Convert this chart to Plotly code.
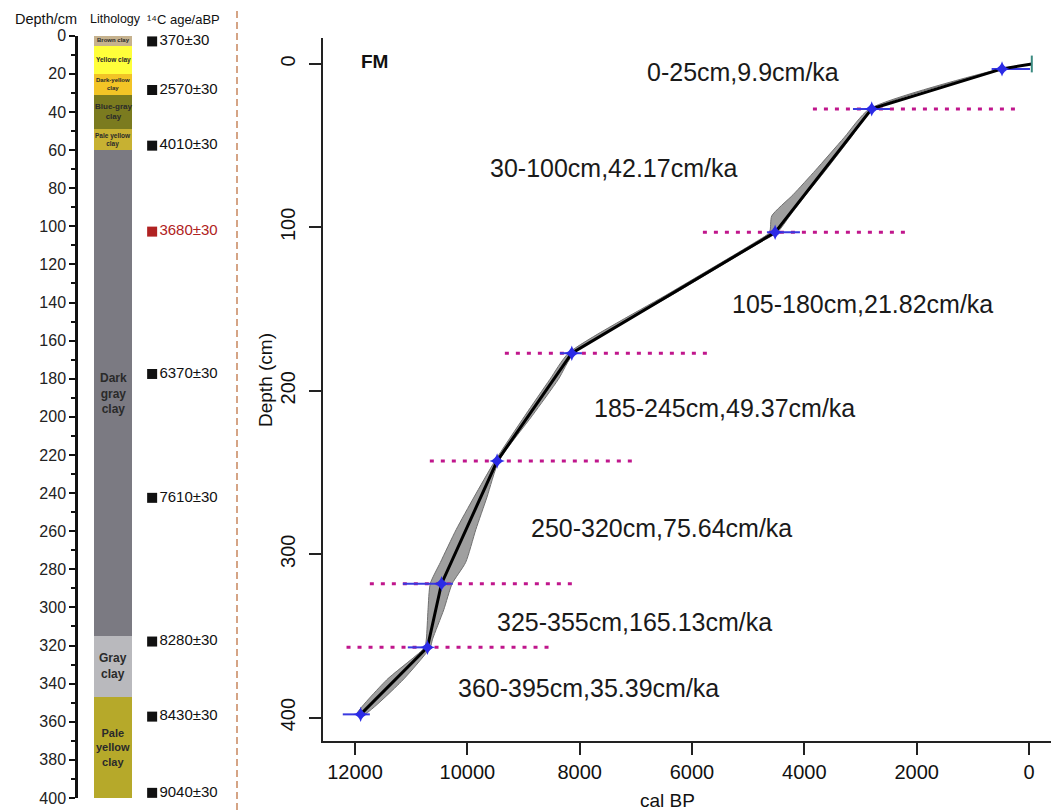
import plotly.graph_objects as go

W, H = 1051, 810

# ---------------- Left panel data (lithology + dates) ----------------
litho_names = ["Brown clay", "Yellow clay", "Dark-yellow<br>clay", "Blue-gray<br>clay",
               "Pale yellow<br>clay", "Dark<br>gray<br>clay", "Gray<br>clay", "Pale<br>yellow<br>clay"]
litho_top = [0, 5, 20, 31, 49, 60, 315, 347]
litho_bottom = [5, 20, 31, 49, 60, 315, 347, 400]
litho_colors = ["#c6b28e", "#ffff3a", "#f2c426", "#7b7b1f", "#c7b132", "#7b7a82", "#b9b9bd", "#b6a92a"]
litho_label_size = [6, 6.5, 6, 8, 6.5, 12, 12, 11]

date_depths = [3, 28.5, 57.7, 102.8, 177.5, 242.5, 317.9, 357.3, 397.3]
date_labels = ["370±30", "2570±30", "4010±30", "3680±30", "6370±30", "7610±30",
               "8280±30", "8430±30", "9040±30"]
date_colors = ["#111111", "#111111", "#111111", "#b02222", "#111111", "#111111",
               "#111111", "#111111", "#111111"]

# ---------------- Right panel data (age-depth model) ----------------
model_depth = [0, 3, 27.5, 103, 177, 243, 318, 357, 398]
model_age = [-50, 480, 2800, 4520, 8140, 9470, 10460, 10710, 11900]

band_depth = [0, 3, 27.5, 45, 65, 80, 93, 103, 110, 140, 177, 193, 215, 243, 265, 285, 305,
              318, 334, 352, 357, 377, 398]
band_young = [-55, 450, 2770, 3170, 3620, 3970, 4260, 4480, 4830, 6290, 8100, 8380, 8840, 9440,
              9650, 9850, 10030, 10270, 10420, 10620, 10660, 11150, 11830]
band_old = [-45, 510, 2840, 3290, 3800, 4200, 4580, 4620, 4920, 6390, 8200, 8530, 8970, 9510,
            9880, 10200, 10480, 10660, 10700, 10730, 10760, 11440, 11970]

dated_depth = [3, 27.5, 103, 177, 243, 318, 357, 398]
dated_age = [480, 2800, 4520, 8140, 9470, 10460, 10710, 11900]
cal_min = [-18, 2475, 4078, 7960, 9420, 10258, 10630, 11736]
cal_max = [665, 3134, 4666, 8352, 9510, 11148, 11060, 12218]

raw_depth = [27.5, 103, 177, 243, 318, 357]
raw_start = [3847, 5806, 9332, 10668, 11736, 12151]
raw_end = [214, 2208, 5681, 7017, 8121, 8500]

rate_labels = ["0-25cm,9.9cm/ka", "30-100cm,42.17cm/ka", "105-180cm,21.82cm/ka",
               "185-245cm,49.37cm/ka", "250-320cm,75.64cm/ka", "325-355cm,165.13cm/ka",
               "360-395cm,35.39cm/ka"]
rate_age = [6839, 9635, 5325, 7788, 8899, 9510, 10205]
rate_depth = [4.9, 63.6, 146.9, 210.5, 284, 341.3, 381.9]

x_ticks = [12000, 10000, 8000, 6000, 4000, 2000, 0]
y_ticks = [0, 100, 200, 300, 400]

FONT = "Liberation Sans, Arial, sans-serif"

fig = go.Figure()

# ---- lithology column ----
thick = [b - t for t, b in zip(litho_top, litho_bottom)]
fig.add_trace(go.Bar(x=[0.5] * len(thick), y=thick, base=litho_top, width=1,
                     marker=dict(color=litho_colors, line=dict(width=0)),
                     xaxis="x2", yaxis="y2", hoverinfo="skip"))

# ---- dates ----
fig.add_trace(go.Scatter(x=[1.53] * len(date_depths), y=date_depths, mode="markers+text",
                         text=date_labels, textposition="middle right",
                         textfont=dict(size=15, color=date_colors, family=FONT),
                         marker=dict(symbol="square", size=10, color=date_colors),
                         xaxis="x2", yaxis="y2", cliponaxis=False, hoverinfo="skip"))

# ---- uncertainty band ----
fig.add_trace(go.Scatter(x=band_young + band_old[::-1], y=band_depth + band_depth[::-1],
                         fill="toself", fillcolor="rgba(135,135,135,0.8)",
                         line=dict(color="#707070", width=1, shape="spline", smoothing=0.6),
                         mode="lines", xaxis="x", yaxis="y", hoverinfo="skip"))

# ---- raw ranges (magenta dotted) ----
rx, ry = [], []
for d, s, e in zip(raw_depth, raw_start, raw_end):
    rx += [s, e, None]
    ry += [d, d, None]
fig.add_trace(go.Scatter(x=rx, y=ry, mode="lines",
                         line=dict(color="#c0168c", width=3, dash="4px,7px"),
                         xaxis="x", yaxis="y", hoverinfo="skip"))

# ---- calibrated ranges (blue) ----
bx, by = [], []
for d, s, e in zip(dated_depth, cal_min, cal_max):
    bx += [s, e, None]
    by += [d, d, None]
fig.add_trace(go.Scatter(x=bx, y=by, mode="lines", line=dict(color="#3a3ae0", width=2),
                         xaxis="x", yaxis="y", hoverinfo="skip"))

# ---- model median line ----
fig.add_trace(go.Scatter(x=model_age, y=model_depth, mode="lines",
                         line=dict(color="black", width=3), xaxis="x", yaxis="y",
                         hoverinfo="skip"))

# ---- dated points ----
fig.add_trace(go.Scatter(x=dated_age, y=dated_depth, mode="markers",
                         marker=dict(symbol="star-diamond", size=11, color="#2b2be6"),
                         xaxis="x", yaxis="y", hoverinfo="skip"))

# surface marker
fig.add_trace(go.Scatter(x=[model_age[0]], y=[model_depth[0]], mode="markers",
                         marker=dict(symbol="line-ns", size=12,
                                     line=dict(color="#3a8a80", width=2)),
                         xaxis="x", yaxis="y", cliponaxis=False, hoverinfo="skip"))

annotations = []
# lithology labels
for name, t, b, fs in zip(litho_names, litho_top, litho_bottom, litho_label_size):
    annotations.append(dict(x=0.5, y=(t + b) / 2, xref="x2", yref="y2", text="<b>" + name + "</b>",
                            showarrow=False, font=dict(size=fs, color="#2a2a2a", family=FONT),
                            align="center", xanchor="center", yanchor="middle"))


def paper_text(px, py, text, size, **kw):
    d = dict(x=px / W, y=1 - py / H, xref="paper", yref="paper", text=text, showarrow=False,
             xanchor="center", yanchor="middle", font=dict(size=size, color="#111", family=FONT))
    d.update(kw)
    return d


annotations += [
    paper_text(46, 19, "Depth/cm", 14.5),
    paper_text(115.5, 19, "Lithology", 12.5),
    paper_text(183, 19, "¹⁴C age/aBP", 13),
    paper_text(374, 62, "<b>FM</b>", 19),
    paper_text(265, 380, "Depth (cm)", 19, textangle=-90),
    paper_text(667, 800, "cal BP", 19),
]
for lab, a, d in zip(rate_labels, rate_age, rate_depth):
    annotations.append(dict(x=a, y=d, xref="x", yref="y", text=lab, showarrow=False,
                            xanchor="left", yanchor="middle",
                            font=dict(size=25, color="#1a1a1a", family=FONT)))

shapes = [dict(type="line", xref="paper", yref="paper", x0=237 / W, x1=237 / W,
               y0=0, y1=1 - 8 / H, line=dict(color="#c8865e", width=1.5, dash="7px,4px"))]

fig.update_layout(
    width=W, height=H, margin=dict(l=0, r=0, t=0, b=0, autoexpand=False),
    paper_bgcolor="white", plot_bgcolor="white", showlegend=False,
    font=dict(family=FONT, color="#111"),
    annotations=annotations, shapes=shapes,
    xaxis=dict(domain=[323 / W, 1.0], range=[12570, -392], anchor="y", automargin=False,
               showline=True, linecolor="#222", linewidth=1.5, showgrid=False, zeroline=False,
               ticks="outside", ticklen=12, tickwidth=1.5, tickcolor="#222",
               tickvals=x_ticks, ticktext=[str(v) for v in x_ticks],
               tickfont=dict(size=20, color="#111")),
    yaxis=dict(domain=[1 - 741 / H, 1 - 38 / H], range=[414.3, -15.9], anchor="x",
               automargin=False,
               showline=True, linecolor="#222", linewidth=1.5, showgrid=False, zeroline=False,
               ticks="outside", ticklen=12, tickwidth=1.5, tickcolor="#222",
               tickvals=y_ticks, tickangle=-90, tickfont=dict(size=20, color="#111"),
               ticklabelstandoff=6),
    xaxis2=dict(domain=[94 / W, 236 / W], range=[0, 142 / 38], anchor="y2", visible=False,
                fixedrange=True, automargin=False),
    yaxis2=dict(domain=[1 - 798 / H, 1 - 35.7 / H], range=[400, 0], anchor="free",
                position=76 / W, showline=True, linecolor="#111", linewidth=2.5,
                automargin=False,
                showgrid=False, zeroline=False, ticks="outside", ticklen=6, tickwidth=2,
                tickcolor="#111", dtick=20, tick0=0, tickfont=dict(size=16, color="#222"),
                minor=dict(dtick=10, ticks="outside", ticklen=4, tickwidth=1.5, tickcolor="#111")),
    bargap=0,
)

fig.write_html("out.html", config={"displayModeBar": False},
               post_script="document.body.style.margin='0';document.body.style.overflow='hidden';")
